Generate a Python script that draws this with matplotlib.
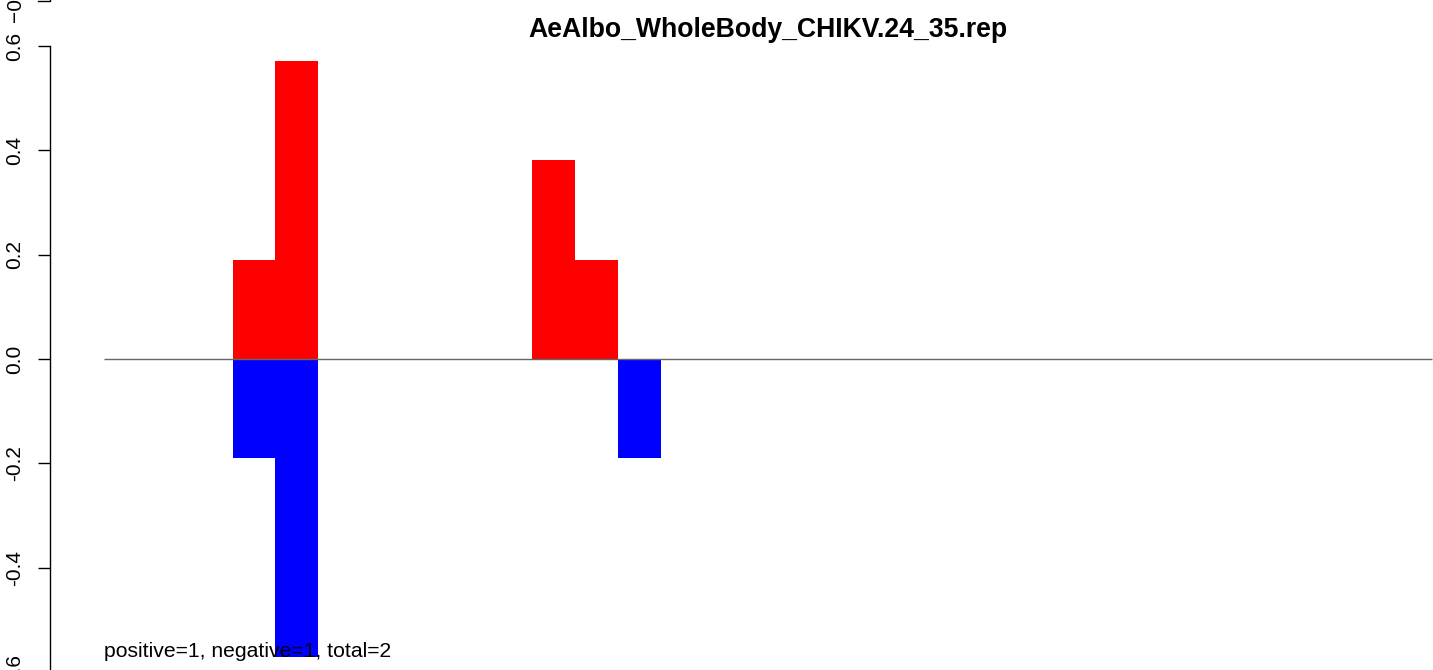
import numpy as np
import matplotlib
matplotlib.use("Agg")
import matplotlib.pyplot as plt
from matplotlib.lines import Line2D

plt.rcParams['font.family'] = ['Liberation Sans', 'DejaVu Sans']

# data
title = "AeAlbo_WholeBody_CHIKV.24_35.rep"
n_bins = 31
pos_bins = [3, 4, 10, 11]
pos_vals = [0.1905, 0.5714, 0.3810, 0.1905]
neg_bins = [3, 4, 12]
neg_vals = [-0.1905, -0.5714, -0.1905]
yticks = [-0.6, -0.4, -0.2, 0.0, 0.2, 0.4, 0.6]
note = "positive=1, negative=1, total=2"

W, H = 1433, 670
fig = plt.figure(figsize=(W / 100, H / 100), dpi=100)

# axes placed in pixels: spine at x=50, y=0.6 at 46 px, y=-0.6 at 672 px
ax_l, ax_r = 50, 1433
ax_top, ax_bot = 46, 672
ax = fig.add_axes([ax_l / W, (H - ax_bot) / H, (ax_r - ax_l) / W, (ax_bot - ax_top) / H])
bw = 42.84
ax.set_xlim(-(104 - ax_l) / bw, (ax_r - 104) / bw)
ax.set_ylim(-0.6, 0.6)

ax.bar(pos_bins, pos_vals, width=1.0, align='edge', color='#ff0000', linewidth=0)
ax.bar(neg_bins, neg_vals, width=1.0, align='edge', color='#0000ff', linewidth=0)
ax.hlines(0, 0, n_bins, color='#666666', linewidth=1.0, zorder=3)

for s in ['top', 'right', 'bottom']:
    ax.spines[s].set_visible(False)
ax.spines['left'].set_linewidth(1.0)
ax.spines['left'].set_bounds(-0.6, 0.6)
ax.set_xticks([])
ax.set_yticks(yticks)
ax.set_yticklabels(["%.1f" % v if v != 0 else "0.0" for v in yticks])
ax.tick_params(axis='y', length=9, width=1.0, pad=9.5, labelsize=15)
for lab in ax.get_yticklabels():
    lab.set_rotation(90)
    lab.set_va('center')

ax.text(0, -0.571, note, fontsize=15.25, ha='left', va='baseline', zorder=5)

# title centred over the plotting region (0 .. n_bins)
fig.text(768 / W, (H - 37) / H, title, fontsize=19.2, fontweight='bold',
         ha='center', va='baseline')

# remnant of the panel above (cut at the top edge)
fig.add_artist(Line2D([38 / W, 50 / W, 50 / W], [(H - 1) / H, (H - 1) / H, 1.02],
                      color='black', linewidth=1.0))
fig.text(15 / W, (H - 1) / H, "\u22120.6", rotation=90, fontsize=15, ha='center', va='center')

fig.savefig("out.png", dpi=100)
